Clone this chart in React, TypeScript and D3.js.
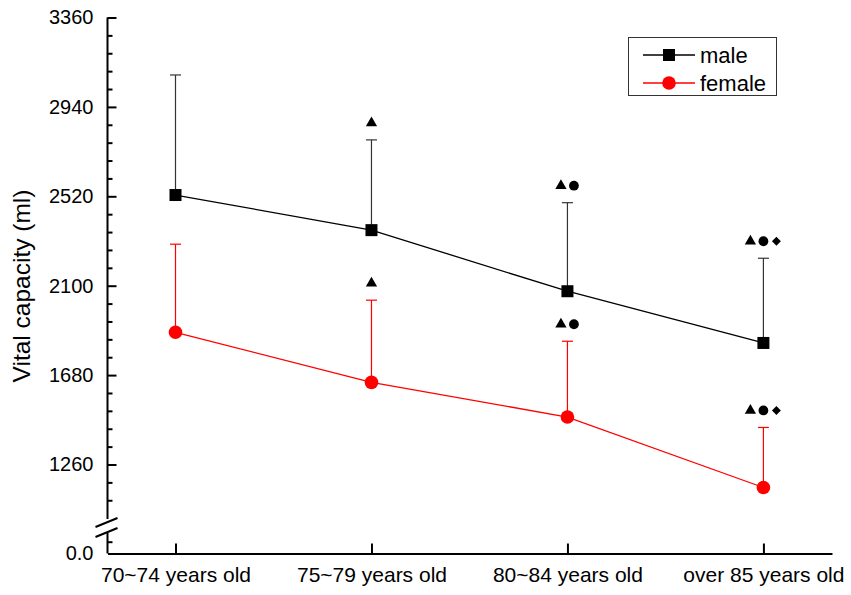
import React, { useEffect, useRef } from "react";
import * as d3 from "d3";

// data
const categories = ["70~74 years old", "75~79 years old", "80~84 years old", "over 85 years old"];
const maleMean = [2526, 2361, 2074, 1831];
const maleSD = [564, 424, 416, 398];
const femaleMean = [1881, 1646, 1483, 1152];
const femaleSD = [414, 386, 356, 282];
// significance marks: t = triangle, c = circle, d = diamond
const maleSig = ["", "t", "tc", "tcd"];
const femaleSig = ["", "t", "tc", "tcd"];
const yTicks = [1260, 1680, 2100, 2520, 2940, 3360];

const App = () => {
  const ref = useRef<SVGSVGElement>(null);

  useEffect(() => {
    makeGraph();
  }, []);

  const makeGraph = () => {
    const width = 851;
    const height = 595;
    const font = "Arial, 'Liberation Sans', sans-serif";

    const svg = d3.select(ref.current);
    svg.selectAll("*").remove();

    const axisX = 107.5;
    const axisY = 553.5;

    // x in index space so the axis line runs past the outer categories
    const x = d3.scaleLinear().domain([-0.347, 3.35]).range([axisX, 832]);

    // broken y axis: upper part and a short lower part holding 0
    const yUp = d3.scaleLinear().domain([1260, 3360]).range([464.5, 17.5]);
    const yLow = d3.scaleLinear().domain([0, 84]).range([axisY, 541.7]);
    const breakTop = 519;
    const breakBottom = 533;

    // upper y axis
    const upper = svg.append("g").attr("transform", `translate(${axisX},0)`);
    upper
      .call(
        // @ts-ignore
        d3.axisLeft(yUp).tickValues(yTicks).tickSize(-9).tickPadding(14).tickFormat(d3.format("d"))
      )
      .call((g) => g.select(".domain").remove());
    upper
      .append("g")
      .call(
        // @ts-ignore
        d3
          .axisLeft(yUp)
          .tickValues(d3.range(1092, 3360, 84).filter((v) => !yTicks.includes(v)))
          .tickSize(-5)
          .tickFormat(() => "")
      )
      .call((g) => g.select(".domain").remove());
    upper
      .append("line")
      .attr("y1", yUp(3360))
      .attr("y2", breakTop)
      .attr("stroke", "#000")
      .attr("stroke-width", 2);

    // lower y axis
    const lower = svg.append("g").attr("transform", `translate(${axisX},0)`);
    lower
      .call(
        // @ts-ignore
        d3.axisLeft(yLow).tickValues([0]).tickSize(0).tickPadding(14).tickFormat(() => "0.0")
      )
      .call((g) => g.select(".domain").remove());
    lower
      .append("g")
      .call(
        // @ts-ignore
        d3.axisLeft(yLow).tickValues([84]).tickSize(-5).tickFormat(() => "")
      )
      .call((g) => g.select(".domain").remove());
    lower
      .append("line")
      .attr("y1", breakBottom)
      .attr("y2", axisY)
      .attr("stroke", "#000")
      .attr("stroke-width", 2);

    // break slashes
    [0, 1].forEach((i) => {
      svg
        .append("line")
        .attr("x1", axisX - 12)
        .attr("y1", breakTop + 8 + i * 10)
        .attr("x2", axisX + 10)
        .attr("y2", breakTop - 1 + i * 10)
        .attr("stroke", "#000")
        .attr("stroke-width", 2);
    });

    // x axis
    svg
      .append("g")
      .attr("transform", `translate(0,${axisY})`)
      .call(
        // @ts-ignore
        d3
          .axisBottom(x)
          .tickValues(d3.range(categories.length))
          .tickSize(-10)
          .tickPadding(14)
          .tickSizeOuter(0)
          .tickFormat((d) => categories[d as number])
      )
      .call((g) => g.select(".domain").attr("stroke-width", 2))
      .call((g) => g.selectAll(".tick text").attr("font-size", "21px"));

    svg
      .selectAll(".tick text")
      .attr("font-family", font)
      .attr("fill", "#000");
    upper.selectAll(".tick text").attr("font-size", "20px");
    lower.selectAll(".tick text").attr("font-size", "20px");
    svg.selectAll(".tick line").attr("stroke-width", 2);

    // y label
    svg
      .append("text")
      .attr("transform", `translate(30,${286}) rotate(-90)`)
      .attr("text-anchor", "middle")
      .attr("font-family", font)
      .attr("font-size", "24.5px")
      .text("Vital capacity (ml)");

    const yv = (v: number) => (v >= 1000 ? yUp(v) : yLow(v));

    const series = [
      { mean: maleMean, sd: maleSD, sig: maleSig, color: "#000", bar: "#333", shape: "square" },
      { mean: femaleMean, sd: femaleSD, sig: femaleSig, color: "#ff0000", bar: "#ff0000", shape: "circle" },
    ];

    const symbolFor: Record<string, d3.SymbolType> = {
      t: d3.symbolTriangle,
      c: d3.symbolCircle,
      d: d3.symbolSquare,
    };
    const symbolSize: Record<string, number> = { t: 55, c: 75, d: 40 };

    series.forEach((s) => {
      const g = svg.append("g");

      // error bars (upper only)
      s.mean.forEach((m, i) => {
        const top = yv(m + s.sd[i]);
        g.append("line")
          .attr("x1", x(i))
          .attr("x2", x(i))
          .attr("y1", yv(m))
          .attr("y2", top)
          .attr("stroke", s.bar)
          .attr("stroke-width", 1.2);
        g.append("line")
          .attr("x1", x(i) - 5.5)
          .attr("x2", x(i) + 5.5)
          .attr("y1", top)
          .attr("y2", top)
          .attr("stroke", s.bar)
          .attr("stroke-width", 1.2);

        // significance marks
        const marks = s.sig[i].split("");
        const step = 13;
        marks.forEach((k, j) => {
          const cx = x(i) + (j - (marks.length - 1) / 2) * step;
          svg
            .append("path")
            .attr("d", d3.symbol().type(symbolFor[k]).size(symbolSize[k])())
            .attr("transform", `translate(${cx},${top - 17})${k === "d" ? " rotate(45)" : ""}`)
            .attr("fill", "#000");
        });
      });

      const line = d3
        .line<number>()
        .x((d, i) => x(i))
        .y((d) => yv(d));

      g.append("path")
        .datum(s.mean)
        .attr("fill", "none")
        .attr("stroke", s.color)
        .attr("stroke-width", 1.3)
        .attr("d", line);

      s.mean.forEach((m, i) => {
        if (s.shape === "square") {
          g.append("rect")
            .attr("x", x(i) - 6)
            .attr("y", yv(m) - 6)
            .attr("width", 12)
            .attr("height", 12)
            .attr("fill", s.color);
        } else {
          g.append("circle")
            .attr("cx", x(i))
            .attr("cy", yv(m))
            .attr("r", 6.8)
            .attr("fill", s.color);
        }
      });
    });

    // legend
    const lg = svg.append("g");
    lg.append("rect")
      .attr("x", 628.5)
      .attr("y", 37.5)
      .attr("width", 148)
      .attr("height", 58)
      .attr("fill", "#fff")
      .attr("stroke", "#333")
      .attr("stroke-width", 1);
    const names = ["male", "female"];
    names.forEach((n, i) => {
      const s = series[i];
      const ly = 55 + i * 28;
      lg.append("line")
        .attr("x1", 643)
        .attr("x2", 695)
        .attr("y1", ly)
        .attr("y2", ly)
        .attr("stroke", s.color)
        .attr("stroke-width", 1.3);
      if (s.shape === "square") {
        lg.append("rect")
          .attr("x", 663)
          .attr("y", ly - 6)
          .attr("width", 12)
          .attr("height", 12)
          .attr("fill", s.color);
      } else {
        lg.append("circle").attr("cx", 669).attr("cy", ly).attr("r", 6.8).attr("fill", s.color);
      }
      lg.append("text")
        .attr("x", 700)
        .attr("y", ly + 8)
        .attr("font-family", font)
        .attr("font-size", "22px")
        .text(n);
    });

    svg.attr("width", width).attr("height", height);
  };

  return (
    <svg
      ref={ref}
      width={851}
      height={595}
      style={{ position: "absolute", left: 0, top: 0, background: "#fff" }}
    />
  );
};
export default App;
